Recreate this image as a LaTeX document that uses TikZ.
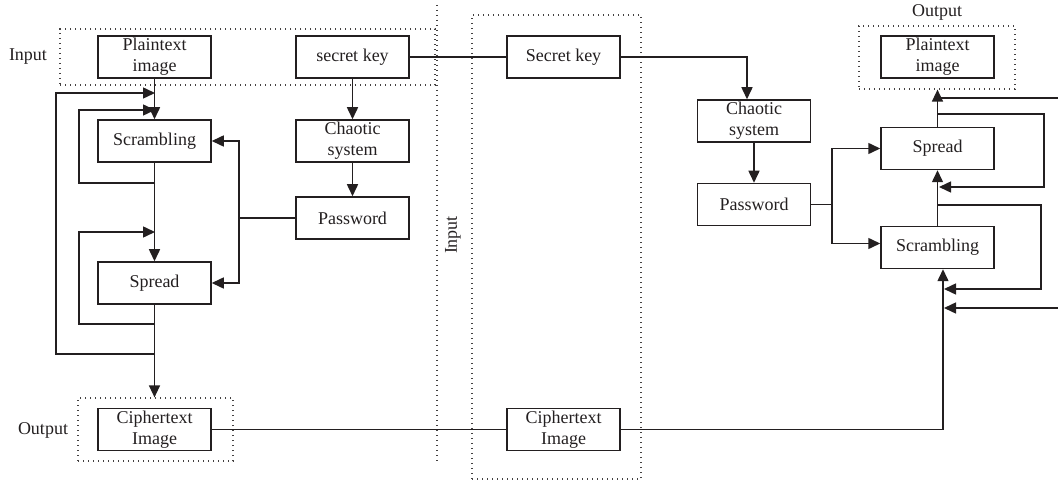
\documentclass[tikz,border=0pt]{standalone}
\usepackage{fontspec}
\setmainfont{Liberation Serif}
\usetikzlibrary{arrows.meta}
\definecolor{ink}{HTML}{231F20}
\tikzset{
  box/.style={draw=ink, line width=1.5pt, minimum width=113pt, minimum height=42pt, inner sep=0pt, align=center, text=ink, font=\fontsize{18}{21}\selectfont},
  dotbox/.style={draw=ink!85, line width=1.2pt, dash pattern=on 1.2pt off 3.8pt, inner sep=0pt},
  lbl/.style={text=ink, font=\fontsize{18}{21}\selectfont, inner sep=0pt},
  conn/.style={draw=ink, line width=1.5pt},
  arr/.style={conn, -{Triangle[length=12pt,width=11pt]}}
}
\begin{document}
\begin{tikzpicture}[x=1pt,y=-1pt]
\useasboundingbox (0,0) rectangle (1058,481);
% dotted frames
\node[dotbox, minimum width=375pt, minimum height=56pt] (inL) at (247.5,57) {};
\node[dotbox, minimum width=155pt, minimum height=63pt] (outL) at (155.5,429.5) {};
\node[dotbox, minimum width=169pt, minimum height=464pt] (mid) at (556.5,247) {};
\node[dotbox, minimum width=156pt, minimum height=63pt] (outR) at (937,57.5) {};
\coordinate (vt) at (437,5);
\coordinate (vb) at (437,462);
\draw[dotbox] (vt) -- (vb);
% labels
\node[lbl] (linL) at (28,57) {Input};
\node[lbl] (loutL) at (43,430) {Output};
\node[lbl, rotate=90] (linM) at (453,235) {Input};
\node[lbl] (loutR) at (937,12) {Output};
% left boxes
\node[box] (pt1) at (154.5,57) {Plaintext\\image};
\node[box] (sk1) at (352.5,57) {secret key};
\node[box] (scr1) at (154.5,141) {Scrambling};
\node[box] (chs1) at (352.5,141) {Chaotic\\system};
\node[box] (pw1) at (352.5,218) {Password};
\node[box] (spr1) at (154.5,283) {Spread};
\node[box] (ct1) at (154.5,429.5) {Ciphertext\\Image};
% middle boxes
\node[box] (sk2) at (563.5,57) {Secret key};
\node[box] (ct2) at (563.5,429.5) {Ciphertext\\Image};
% right boxes
\node[box] (chs2) at (754,121) {Chaotic\\system};
\node[box] (pw2) at (754,204.5) {Password};
\node[box] (pt2) at (937.5,57) {Plaintext\\image};
\node[box] (spr2) at (937.5,148.5) {Spread};
\node[box] (scr2) at (937.5,247.5) {Scrambling};
% left connectors
\draw[arr] (pt1) -- (scr1);
\coordinate (oL1) at (155,354);
\coordinate (oL2) at (56,93);
\coordinate (oL3) at (155,93);
\draw[arr] (oL1) -| (oL2) -- (oL3);
\coordinate (iL1) at (155,183);
\coordinate (iL2) at (79,110);
\coordinate (iL3) at (155,110);
\draw[arr] (iL1) -| (iL2) -- (iL3);
\draw[arr] (scr1) -- (spr1);
\coordinate (jL1) at (155,324);
\coordinate (jL2) at (79,232);
\coordinate (jL3) at (155,232);
\draw[arr] (jL1) -| (jL2) -- (jL3);
\draw[arr] (spr1.south) -- (spr1.south |- outL.north);
\coordinate (pL) at (239,218);
\draw[conn] (pw1.west) -- (pL);
\draw[arr] (pL) |- (scr1.east);
\draw[arr] (pL) |- (spr1.east);
\draw[arr] (sk1) -- (chs1);
\draw[arr] (chs1) -- (pw1);
% middle connectors
\draw[conn] (sk1) -- (sk2);
\draw[arr] (sk2.east) -| ([xshift=-7pt]chs2.north);
\draw[conn] (ct1) -- (ct2);
\draw[arr] (ct2.east) -| ([xshift=5.5pt]scr2.south);
% right connectors
\draw[arr] (chs2) -- (pw2);
\coordinate (pR) at (832,204.5);
\draw[conn] (pw2.east) -- (pR);
\draw[arr] (pR) |- (spr2.west);
\draw[arr] (pR) |- ([yshift=4pt]scr2.west);
\draw[arr] (spr2.north) -- (spr2.north |- outR.south);
\coordinate (eR1) at (1058,98);
\draw[conn] (spr2.north |- eR1) -- (eR1);
\coordinate (lR1) at (937.5,114);
\coordinate (lR2) at (1044,187);
\coordinate (lR3) at (939,187);
\draw[arr] (lR1) -| (lR2) -- (lR3);
\draw[arr] (scr2) -- (spr2);
\coordinate (mR1) at (937.5,205);
\coordinate (mR2) at (1041,289);
\coordinate (mR3) at (944,289);
\draw[arr] (mR1) -| (mR2) -- (mR3);
\coordinate (eR2) at (1058,308);
\coordinate (eR3) at (944,308);
\draw[arr] (eR2) -- (eR3);
\end{tikzpicture}
\end{document}
